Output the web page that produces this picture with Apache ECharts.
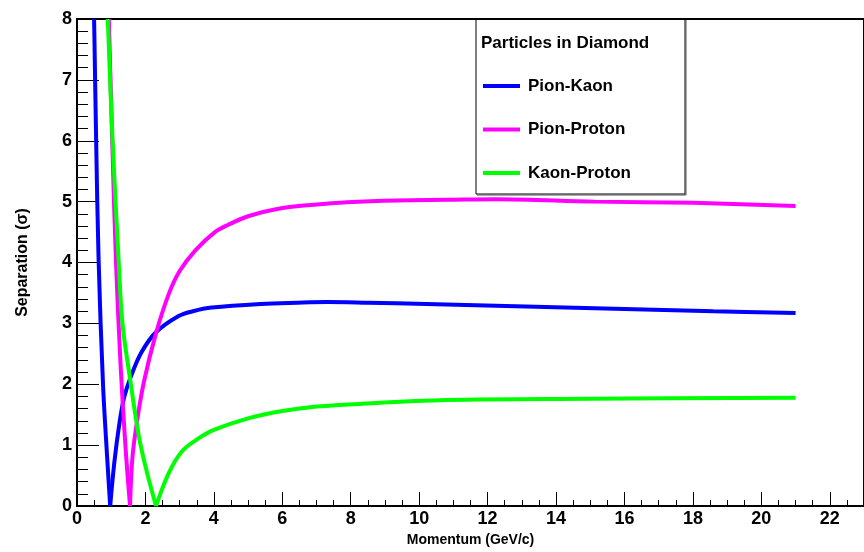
<!DOCTYPE html>
<html>
<head>
<meta charset="utf-8">
<script src="https://cdn.jsdelivr.net/npm/echarts@6/dist/echarts.min.js"></script>
<style>
html,body{margin:0;padding:0;background:#fff;}
#chart{width:864px;height:552px;}
</style>
</head>
<body>
<div id="chart"></div>
<script>
// ---- data ----
const seriesNames = ['Pion-Kaon', 'Pion-Proton', 'Kaon-Proton'];
const seriesColors = ['#0000ff', '#ff00ff', '#00ff00'];

const pionKaonX = [0.50, 0.56, 0.63, 0.76, 0.88, 0.97, 1.09, 1.24, 1.38, 1.57, 1.88, 2.30, 2.97, 3.39, 3.94, 5.38, 6.45, 7.31, 8.5, 9.34, 12.24, 15.13, 18.6, 21.0];
const pionKaonY = [8.0, 6.0, 4.07, 2.0, 0.81, 0.0, 0.71, 1.36, 1.79, 2.12, 2.52, 2.85, 3.12, 3.20, 3.26, 3.32, 3.34, 3.35, 3.34, 3.33, 3.29, 3.25, 3.20, 3.17];

const pionProtonX = [0.93, 1.03, 1.14, 1.28, 1.42, 1.55, 1.62, 1.77, 1.96, 2.30, 2.68, 3.00, 3.46, 4.03, 4.42, 5.0, 5.96, 6.93, 7.89, 9.34, 10.8, 12.24, 15.13, 18.0, 21.0];
const pionProtonY = [8.0, 6.0, 4.0, 2.25, 0.95, 0.0, 0.80, 1.45, 2.05, 2.82, 3.48, 3.86, 4.20, 4.50, 4.62, 4.76, 4.89, 4.95, 4.99, 5.02, 5.03, 5.04, 5.00, 4.98, 4.93];

const kaonProtonX = [0.90, 1.04, 1.22, 1.33, 1.53, 1.81, 2.05, 2.31, 2.68, 3.07, 3.55, 4.0, 5.0, 6.0, 6.93, 8.0, 10.8, 15.0, 21.0];
const kaonProtonY = [8.0, 6.0, 4.0, 2.99, 2.17, 1.14, 0.54, 0.0, 0.54, 0.90, 1.11, 1.25, 1.44, 1.56, 1.63, 1.67, 1.74, 1.76, 1.78];

const xTickInterval = 2;
const yTickInterval = 1;
const xMin = 0, xMax = 23;
const yMin = 0, yMax = 8;

const legendTitle = 'Particles in Diamond';
const xAxisTitle = 'Momentum (GeV/c)';
const yAxisTitle = 'Separation (\u03c3)';

const FONT = "'Liberation Sans', Arial, sans-serif";

// ---- build series (each curve drawn as two branches meeting at its zero) ----
function splitAtZero(xs, ys) {
  const k = ys.indexOf(0);
  const left = [], right = [];
  for (let i = 0; i <= k; i++) left.push([xs[i], ys[i]]);
  for (let i = k; i < xs.length; i++) right.push([xs[i], ys[i]]);
  return [left, right];
}
const allX = [pionKaonX, pionProtonX, kaonProtonX];
const allY = [pionKaonY, pionProtonY, kaonProtonY];
const series = [];
for (let s = 0; s < 3; s++) {
  const parts = splitAtZero(allX[s], allY[s]);
  parts.forEach(function (p) {
    series.push({
      name: seriesNames[s],
      type: 'line',
      data: p,
      smooth: 0.35,
      showSymbol: false,
      symbol: 'none',
      clip: true,
      lineStyle: { color: seriesColors[s], width: 4 },
      itemStyle: { color: seriesColors[s] },
      z: 2 + s
    });
  });
}

const chart = echarts.init(document.getElementById('chart'), null, { renderer: 'canvas' });
chart.setOption({
  backgroundColor: '#ffffff',
  animation: false,
  grid: {
    left: 77, top: 19, bottom: 42, right: -8,
    show: true, borderColor: '#000', borderWidth: 2, backgroundColor: 'transparent'
  },
  title: {
    text: legendTitle,
    left: 481, top: 35, padding: 0,
    textStyle: { fontFamily: FONT, fontWeight: 'bold', fontSize: 17, color: '#000', lineHeight: 17 }
  },
  legend: {
    data: seriesNames,
    orient: 'vertical',
    left: 483, top: 75,
    padding: 0,
    icon: 'rect',
    itemWidth: 37, itemHeight: 4,
    itemGap: 21.5,
    selectedMode: false,
    textStyle: { fontFamily: FONT, fontWeight: 'bold', fontSize: 17, color: '#000', lineHeight: 22, padding: [0, 0, 0, 3] }
  },
  graphic: [{
    type: 'rect',
    shape: { x: 476, y: 19, width: 209, height: 175 },
    style: { fill: 'none', stroke: '#000', lineWidth: 1 },
    z: 10
  }, {
    type: 'polyline',
    shape: { points: [[686, 20], [686, 195], [477, 195]] },
    style: { fill: 'none', stroke: '#555', lineWidth: 1 },
    z: 10
  }],
  xAxis: {
    type: 'value',
    min: xMin, max: xMax, interval: xTickInterval,
    name: xAxisTitle,
    nameLocation: 'middle',
    nameGap: 27,
    nameTextStyle: { fontFamily: FONT, fontWeight: 'bold', fontSize: 14, color: '#000' },
    axisLine: { show: true, onZero: false, lineStyle: { color: '#000', width: 2 } },
    axisTick: { show: true, inside: true, length: 14, lineStyle: { color: '#000', width: 1 } },
    minorTick: { show: true, splitNumber: 4, length: 6, lineStyle: { color: '#000', width: 1 } },
    axisLabel: { showMaxLabel: false, margin: 4, fontFamily: FONT, fontWeight: 'bold', fontSize: 18, color: '#000' },
    splitLine: { show: false }
  },
  yAxis: {
    type: 'value',
    min: yMin, max: yMax, interval: yTickInterval,
    name: yAxisTitle,
    nameLocation: 'middle',
    nameGap: 46,
    nameTextStyle: { fontFamily: FONT, fontWeight: 'bold', fontSize: 16, color: '#000' },
    axisLine: { show: true, onZero: false, lineStyle: { color: '#000', width: 2 } },
    axisTick: { show: true, inside: true, length: 22, lineStyle: { color: '#000', width: 1 } },
    minorTick: { show: true, splitNumber: 5, length: 11, lineStyle: { color: '#000', width: 1 } },
    axisLabel: { margin: 5, fontFamily: FONT, fontWeight: 'bold', fontSize: 18, color: '#000' },
    splitLine: { show: false }
  },
  series: series
});
</script>
</body>
</html>
